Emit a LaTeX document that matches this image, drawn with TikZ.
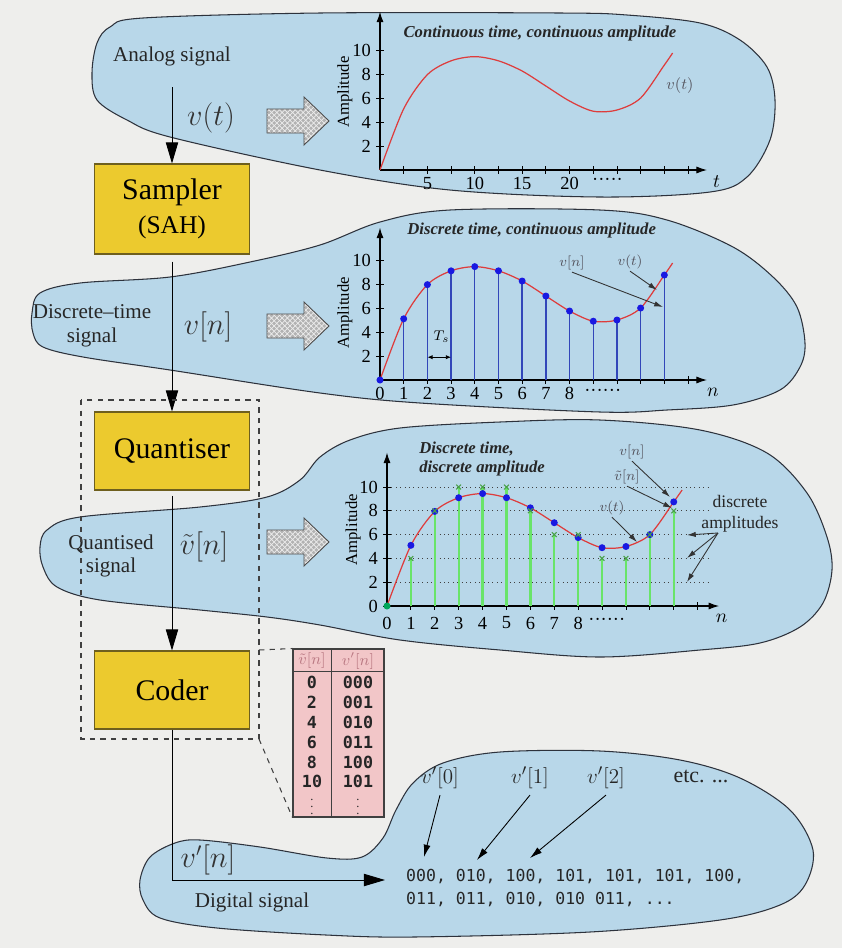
\documentclass[tikz,border=0pt]{standalone}
\usepackage{fontspec}
\setmainfont{Liberation Serif}
\setmonofont{DejaVu Sans Mono}
\usepackage{amsmath}
\usepackage{tikz}
\usetikzlibrary{arrows.meta, positioning, calc, patterns}
\definecolor{bggrey}{RGB}{238,238,236}
\definecolor{blobblue}{RGB}{184,215,233}
\definecolor{blobedge}{RGB}{45,50,60}
\definecolor{boxyellow}{RGB}{236,202,46}
\definecolor{boxedge}{RGB}{110,95,30}
\definecolor{tabpink}{RGB}{242,198,200}
\definecolor{tabhead}{RGB}{185,120,130}
\definecolor{curvered}{RGB}{222,60,60}
\definecolor{dotblue}{RGB}{25,25,225}
\definecolor{stemblue}{RGB}{50,70,185}
\definecolor{stemgreen}{RGB}{105,228,105}
\definecolor{notegrey}{RGB}{85,85,95}
\tikzset{
  blob/.style={fill=blobblue, draw=blobedge, line width=0.6pt},
  procbox/.style={rectangle, draw=boxedge, fill=boxyellow, minimum width=3.1cm,
    align=center, font=\fontsize{17}{20}\selectfont, line width=0.6pt},
  flow/.style={-{Triangle[length=12pt,width=7pt]}, line width=0.5pt, black},
  sig/.style={font=\fontsize{12}{13.5}\selectfont, text=black!85, align=center},
  bigmath/.style={font=\fontsize{16}{18}\selectfont, text=black!80},
  bmath/.style={font=\fontsize{13}{15}\selectfont, text=black!85},
  axisline/.style={-{Latex[length=6pt,width=4pt]}, line width=0.6pt, black},
  tick/.style={line width=0.5pt, black},
  ticklbl/.style={font=\fontsize{10.5}{12}\selectfont, inner sep=1pt},
  ptitle/.style={font=\fontsize{9.5}{11}\selectfont\bfseries\itshape, text=black!85},
  amplbl/.style={rotate=90, font=\fontsize{9.5}{11}\selectfont},
  note/.style={font=\fontsize{8.5}{10}\selectfont, text=notegrey, inner sep=1pt},
  pointer/.style={-{Latex[length=5pt,width=3pt]}, line width=0.5pt, black!80},
  bpointer/.style={-{Latex[length=7pt,width=4pt]}, line width=0.5pt, black},
  vcurve/.style={curvered, line width=0.7pt},
  bluestem/.style={stemblue, line width=0.8pt},
  greenstem/.style={stemgreen, line width=1.3pt},
  qmark/.style={stemgreen!70!black, line width=0.6pt},
  level/.style={dotted, black!75, line width=0.5pt},
  dashbox/.style={dashed, black!75, line width=0.6pt},
  codetab/.style={rectangle, draw=black!75, fill=tabpink, minimum width=1.82cm,
    minimum height=3.36cm, inner sep=0pt, line width=0.6pt},
  tabtxt/.style={font=\fontsize{9.5}{11}\selectfont\ttfamily\bfseries, text=black!85},
  tabhd/.style={font=\fontsize{9}{11}\selectfont, text=tabhead},
  seqtxt/.style={font=\fontsize{9.4}{13}\selectfont\ttfamily, text=black!85, align=left},
  hatcharrow/.pic={
    \draw[draw=black!70, line width=0.5pt, preaction={fill=gray!60},
      pattern=crosshatch, pattern color=white!85!gray]
      (-31,-12) -- (6,-12) -- (6,-24) -- (31,0) -- (6,24) -- (6,12) -- (-31,12) -- cycle;
  }
}

\begin{document}
\begin{tikzpicture}[x=0.02cm, y=-0.02cm]
  \fill[bggrey] (0,0) rectangle (842,948);
  \useasboundingbox (0,0) rectangle (842,948);

  % signal clouds
  \draw[blob] plot[smooth cycle, tension=0.55] coordinates {(143,18) (320,13) (560,13) (627,15)
    (700,23) (740,40) (767,67) (775,100) (770,140) (747,177) (710,192) (600,197) (450,190)
    (320,170) (170,137) (127,120) (97,100) (92,73) (97,43) (110,27)};
  \draw[blob] plot[smooth cycle, tension=0.55] coordinates {(450,210) (600,210) (667,220)
    (733,247) (773,277) (797,307) (805,343) (800,367) (780,390) (733,405) (667,410) (600,412)
    (420,403) (320,393) (170,370) (83,357) (43,347) (33,333) (32,313) (40,293) (80,283)
    (170,277) (250,262) (320,245) (380,222)};
  \draw[blob] plot[smooth cycle, tension=0.55] coordinates {(500,422) (600,420) (700,430)
    (767,453) (807,493) (827,537) (832,570) (823,603) (800,627) (760,643) (700,650) (600,657)
    (500,650) (400,640) (320,625) (267,617) (200,610) (100,600) (57,587) (43,567) (40,547)
    (47,530) (80,517) (200,507) (267,497) (300,480) (320,457) (350,440) (400,428)};
  \draw[blob] plot[smooth cycle, tension=0.55] coordinates {(500,752) (600,751)
    (680,760) (740,778) (790,810) (813,850) (805,885) (780,905) (720,920) (590,932)
    (414,937) (326,935) (217,928) (160,918) (143,900) (140,880) (150,857) (175,843) (200,840)
    (260,847) (327,858) (362,857) (383,838) (396,810) (413,783) (443,763)};

  % stage boxes and flow
  \node[procbox, minimum height=1.8cm] (sampler) at (172,209)
    {Sampler\\[-1pt]{\fontsize{14.5}{17}\selectfont(SAH)}};
  \node[procbox, minimum height=1.56cm] (quant) at (172,451) {Quantiser};
  \node[procbox, minimum height=1.56cm] (coder) at (172,690) {Coder};
  \coordinate (ain) at (172,87);
  \coordinate (corner) at (172,880);
  \coordinate (seqin) at (385,880);
  \draw[flow] (ain) -- (sampler.north);
  \draw[flow, shorten <=4pt] (sampler.south) -- (quant.north);
  \draw[flow, shorten <=3pt] (quant.south) -- (coder.north);
  \draw[flow] (coder.south) -- (corner) -- (seqin);

  % labels on the left
  \node[sig] (analog) at (172,56) {Analog signal};
  \node[bigmath] (vt) at (211,118) {$v(t)$};
  \node[sig] (dtsig) at (92,326) {Discrete--time\\signal};
  \node[bigmath] (vn) at (208,327) {$v[n]$};
  \node[sig] (qsig) at (111,556) {Quantised\\signal};
  \node[bigmath] (vq) at (204,547) {$\tilde{v}[n]$};
  \node[bigmath] (vdig) at (208,860) {$v'[n]$};
  \node[sig] (digsig) at (252,902) {Digital signal};

  % hatched arrows
  \pic at (298,121) {hatcharrow};
  \pic at (298,326) {hatcharrow};
  \pic at (298,542) {hatcharrow};

  % plot 1: continuous time
  \begin{scope}[shift={(380,170)}, x=0.474cm, y=0.24cm]
    \draw[axisline] (0,0) -- (13.8,0);
    \draw[axisline] (0,0) -- (0,13.2);
    \foreach \k in {1,...,13} \draw[tick] (\k,-0.3) -- (\k,0.3);
    \foreach \v in {2,4,...,10} {
      \draw[tick] (-0.15,\v) -- (0.15,\v);
      \node[ticklbl, anchor=east] (ya\v) at (-0.3,\v) {\v};
    }
    \foreach \k/\t in {2/5,4/10,6/15,8/20} \node[ticklbl] (xa\t) at (\k,-1.1) {\t};
    \node[ticklbl] (xadots) at (9.6,-1.0) {·····};
    \node[ticklbl] (tlbl) at (14.2,-1.0) {$t$};
    \node[amplbl] (ampa) at (-1.48,6.5) {Amplitude};
    \draw[vcurve] plot[smooth] coordinates {(0,0) (1,5.1) (2,7.95) (3,9.1) (4,9.45) (5,9.1)
      (6,8.25) (7,7) (8,5.75) (9,4.9) (10,5) (11,6) (12,8.75) (12.35,9.75)};
    \node[note, font=\fontsize{9}{10}\selectfont] (vtlbl) at (12.66,7) {$v(t)$};
    \node[ptitle] (titlea) at (6.75,11.4) {Continuous time, continuous amplitude};
  \end{scope}

  % plot 2: sampled
  \begin{scope}[shift={(380,380)}, x=0.474cm, y=0.24cm]
    \draw[axisline] (0,0) -- (13.8,0);
    \draw[axisline] (0,0) -- (0,12.7);
    \foreach \k in {1,...,13} \draw[tick] (\k,-0.3) -- (\k,0.3);
    \foreach \v in {2,4,...,10} {
      \draw[tick] (-0.15,\v) -- (0.15,\v);
      \node[ticklbl, anchor=east] (yb\v) at (-0.3,\v) {\v};
    }
    \foreach \k in {0,...,8} \node[ticklbl] (xb\k) at (\k,-1.15) {\k};
    \node[ticklbl] (xbdots) at (9.4,-1.05) {······};
    \node[ticklbl] (nlblb) at (14.05,-1.0) {$n$};
    \node[amplbl] (ampb) at (-1.48,5.6) {Amplitude};
    \foreach \n/\v in {1/5.1,2/7.95,3/9.1,4/9.45,5/9.1,6/8.25,7/7,8/5.75,9/4.9,10/5,11/6,12/8.75}
      \draw[bluestem] (\n,0) -- (\n,\v);
    \draw[vcurve] plot[smooth] coordinates {(0,0) (1,5.1) (2,7.95) (3,9.1) (4,9.45) (5,9.1)
      (6,8.25) (7,7) (8,5.75) (9,4.9) (10,5) (11,6) (12,8.75) (12.35,9.75)};
    \foreach \n/\v in {0/0,1/5.1,2/7.95,3/9.1,4/9.45,5/9.1,6/8.25,7/7,8/5.75,9/4.9,10/5,11/6,12/8.75}
      \fill[dotblue] (\n,\v) circle (2pt);
    \draw[{Latex[length=3pt,width=2.5pt]}-{Latex[length=3pt,width=2.5pt]}, line width=0.5pt]
      (2,1.9) -- (3,1.9);
    \node[note, text=black] (tslbl) at (2.6,3.6) {$T_s$};
    \node[ptitle] (titleb) at (6.4,12.5) {Discrete time, continuous amplitude};
  \end{scope}
  \node[note] (vnb) at (572,263) {$v[n]$};
  \node[note] (vtb) at (630,262) {$v(t)$};
  \draw[pointer] (vnb.south) -- (663,307);
  \draw[pointer] (vtb.south) -- (657,290);

  % plot 3: quantised
  \begin{scope}[shift={(387,606)}, x=0.478cm, y=0.238cm]
    \foreach \v in {2,4,...,10} \draw[level] (0,\v) -- (13.5,\v);
    \draw[axisline] (0,0) -- (13.9,0);
    \draw[axisline] (0,0) -- (0,12.9);
    \foreach \k in {1,...,13} \draw[tick] (\k,-0.3) -- (\k,0.3);
    \foreach \v in {0,2,...,10} {
      \draw[tick] (-0.15,\v) -- (0.15,\v);
      \node[ticklbl, anchor=east] (yc\v) at (-0.3,\v) {\v};
    }
    \foreach \k in {0,...,8} \node[ticklbl] (xc\k) at (\k,-1.43) {\k};
    \node[ticklbl] (xcdots) at (9.2,-1.3) {······};
    \node[ticklbl] (nlblc) at (14.0,-1.0) {$n$};
    \node[amplbl] (ampc) at (-1.42,6.4) {Amplitude};
    \foreach \n/\q in {1/4,2/8,3/10,4/10,5/10,6/8,7/6,8/6,9/4,10/4,11/6,12/8}
      \draw[greenstem] (\n,0) -- (\n,\q);
    \draw[vcurve] plot[smooth] coordinates {(0,0) (1,5.1) (2,7.95) (3,9.1) (4,9.45) (5,9.1)
      (6,8.25) (7,7) (8,5.75) (9,4.9) (10,5) (11,6) (12,8.75) (12.35,9.75)};
    \foreach \n/\v in {1/5.1,2/7.95,3/9.1,4/9.45,5/9.1,6/8.25,7/7,8/5.75,9/4.9,10/5,11/6,12/8.75}
      \fill[dotblue] (\n,\v) circle (2pt);
    \fill[teal!70!green] (0,0) circle (2pt);
    \foreach \n/\q in {1/4,2/8,3/10,4/10,5/10,6/8,7/6,8/6,9/4,10/4,11/6,12/8}
      \draw[qmark] (\n,\q) ++(-0.1,-0.2) -- ++(0.2,0.4) ++(0,-0.4) -- ++(-0.2,0.4);
    \node[ptitle, anchor=north west, align=left] (titlec) at (1.09,14.3)
      {Discrete time,\\discrete amplitude};
  \end{scope}
  \node[note] (vnc) at (632,452) {$v[n]$};
  \node[note] (vqc) at (627,477) {$\tilde{v}[n]$};
  \node[note] (vtc) at (612,508) {$v(t)$};
  \draw[pointer] (vnc.south) -- (670,497);
  \draw[pointer] (vqc.south) -- (672,508);
  \draw[pointer] (vtc.south) -- (637,542);
  \node[note, text=black!85, font=\fontsize{10}{12}\selectfont, align=center] (dalbl)
    at (740,514) {discrete\\amplitudes};
  \coordinate (dafrom) at (718,533);
  \draw[pointer] (dafrom) -- (687,535);
  \draw[pointer] (dafrom) -- (687,558);
  \draw[pointer] (dafrom) -- (687,582);

  % quantiser + coder group and code table
  \draw[dashbox] (81,400) rectangle (259,739);
  \coordinate (dashtop) at (259,650);
  \coordinate (dashbot) at (259,739);
  \node[codetab] (tab) at (338.5,733) {};
  \draw[dashbox] (dashtop) -- (tab.north west);
  \draw[dashbox] (dashbot) -- (tab.south west);
  \draw[line width=0.6pt, black!75] ($(tab.north west)+(39,0)$) -- ($(tab.south west)+(39,0)$);
  \draw[line width=0.6pt, black!75] ($(tab.north west)+(0,23)$) -- ($(tab.north east)+(0,23)$);
  \node[tabhd] (hq) at (312,661) {$\tilde{v}[n]$};
  \node[tabhd] (hc) at (358,661) {$v'[n]$};
  \foreach \a/\b [count=\i] in {0/000,2/001,4/010,6/011,8/100,10/101} {
    \node[tabtxt] (ta\i) at (312,663+19.8*\i) {\a};
    \node[tabtxt] (tb\i) at (358,663+19.8*\i) {\b};
  }
  \node[tabtxt, font=\fontsize{7}{8}\selectfont] (tav) at (312,802) {$\vdots$};
  \node[tabtxt, font=\fontsize{7}{8}\selectfont] (tbv) at (358,802) {$\vdots$};

  % digital output
  \node[seqtxt, anchor=west] (seq) at (400,888)
    {000, 010, 100, 101, 101, 101, 100,\\011, 011, 010, 010 011, ...};
  \node[bmath] (lab0) at (440,778) {$v'[0]$};
  \node[bmath] (lab1) at (530,778) {$v'[1]$};
  \node[bmath] (lab2) at (606,778) {$v'[2]$};
  \node[sig, font=\fontsize{12.5}{14}\selectfont] (etc) at (701,776) {etc. ...};
  \draw[bpointer] (lab0.south) -- (424,857);
  \draw[bpointer] (lab1.south) -- (477,860);
  \draw[bpointer] (lab2.south) -- (530,858);
\end{tikzpicture}
\end{document}
